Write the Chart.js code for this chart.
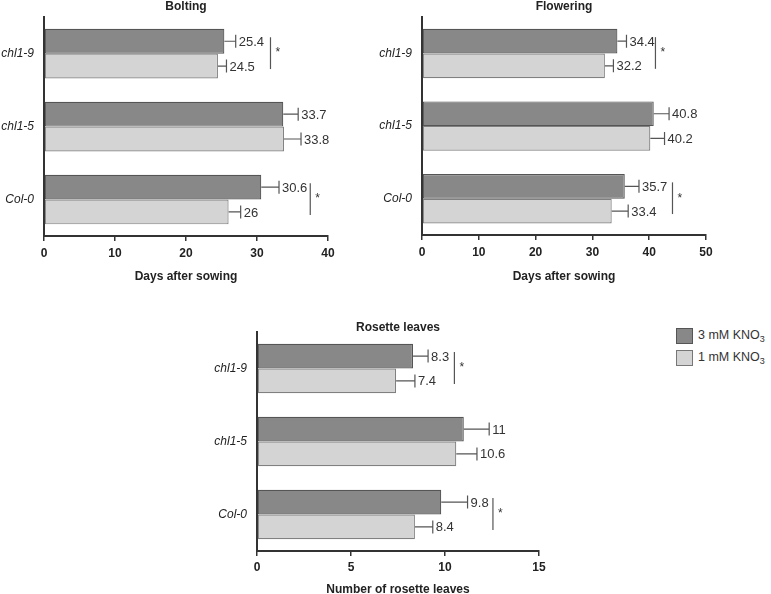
<!DOCTYPE html>
<html>
<head>
<meta charset="utf-8">
<script src="https://cdn.jsdelivr.net/npm/chart.js@4.4.1/dist/chart.umd.min.js"></script>
<style>
  html, body { margin: 0; padding: 0; background: #fff; }
  body { width: 771px; height: 594px; position: relative; overflow: hidden; font-family: "Liberation Sans", Arial, sans-serif; }
  canvas { position: absolute; }
  .leg { position: absolute; left: 676px; font-size: 12.5px; color: #333; }
  .leg .box { position: absolute; left: 0; width: 15px; height: 14px; border: 1px solid #555; }
  .leg .txt { position: absolute; left: 22px; top: 0px; white-space: nowrap; }
  .leg sub { font-size: 9px; vertical-align: -3px; line-height: 0; }
</style>
</head>
<body>
<canvas id="c1"></canvas>
<canvas id="c2"></canvas>
<canvas id="c3"></canvas>
<div class="leg" style="top:328px;"><div class="box" style="background:#888888;"></div><div class="txt">3 mM KNO<sub>3</sub></div></div>
<div class="leg" style="top:350px;"><div class="box" style="background:#d4d4d4;border-color:#777;"></div><div class="txt">1 mM KNO<sub>3</sub></div></div>
<script>
// ---- data ----
const genotypes = ["chl1-9", "chl1-5", "Col-0"];
const seriesNames = ["3 mM KNO3", "1 mM KNO3"];

const boltingHigh = [25.4, 33.7, 30.6];
const boltingLow = [24.5, 33.8, 26];
const boltingHighErr = [1.6, 2.1, 2.5];
const boltingLowErr = [1.2, 2.4, 1.7];
const boltingSig = [31.9, null, 37.5];
const boltingTicks = [0, 10, 20, 30, 40];

const floweringHigh = [34.4, 40.8, 35.7];
const floweringLow = [32.2, 40.2, 33.4];
const floweringHighErr = [1.6, 2.7, 2.5];
const floweringLowErr = [1.5, 2.5, 2.9];
const floweringSig = [41.1, null, 44.1];
const floweringTicks = [0, 10, 20, 30, 40, 50];

const rosetteHigh = [8.3, 11, 9.8];
const rosetteLow = [7.4, 10.6, 8.4];
const rosetteHighErr = [0.8, 1.35, 1.4];
const rosetteLowErr = [1.0, 1.1, 0.95];
const rosetteSig = [10.5, null, 12.55];
const rosetteTicks = [0, 5, 10, 15];

const FONT = '"Liberation Sans", Arial, sans-serif';

const overlay = {
  id: 'overlay',
  afterDatasetsDraw(chart, args, opts) {
    const ctx = chart.ctx;
    const xs = chart.scales.x;
    ctx.save();
    // error bars + value labels
    chart.data.datasets.forEach((ds, di) => {
      const meta = chart.getDatasetMeta(di);
      meta.data.forEach((bar, i) => {
        const v = ds.data[i];
        const e = opts.errors[di][i];
        const x0 = xs.getPixelForValue(v);
        const x1 = xs.getPixelForValue(v + e);
        const y = bar.y;
        ctx.strokeStyle = '#555';
        ctx.lineWidth = 1.2;
        ctx.beginPath();
        ctx.moveTo(x0, y); ctx.lineTo(x1, y);
        ctx.moveTo(x1, y - 6.5); ctx.lineTo(x1, y + 6.5);
        ctx.stroke();
        ctx.fillStyle = '#333';
        ctx.font = '13px ' + FONT;
        ctx.textAlign = 'left';
        ctx.textBaseline = 'middle';
        ctx.fillText(String(v), x1 + 3, y + 1);
      });
    });
    // significance markers
    const m0 = chart.getDatasetMeta(0), m1 = chart.getDatasetMeta(1);
    opts.sig.forEach((s, i) => {
      if (s == null) return;
      const x = xs.getPixelForValue(s);
      const yTop = m0.data[i].y - 4;
      const yBot = m1.data[i].y + 3;
      ctx.strokeStyle = '#555';
      ctx.lineWidth = 1.2;
      ctx.beginPath();
      ctx.moveTo(x, yTop); ctx.lineTo(x, yBot);
      ctx.stroke();
      ctx.fillStyle = '#333';
      ctx.font = '12px ' + FONT;
      ctx.textAlign = 'left';
      ctx.textBaseline = 'middle';
      ctx.fillText('*', x + 5, (yTop + yBot) / 2);
    });
    // title and axis title
    const ca = chart.chartArea;
    ctx.fillStyle = '#222';
    ctx.font = 'bold 12px ' + FONT;
    ctx.textAlign = 'center';
    ctx.textBaseline = 'middle';
    const cx = (ca.left + ca.right) / 2;
    ctx.fillText(opts.title, cx, opts.titleY);
    ctx.fillText(opts.axisTitle, cx, opts.axisTitleY);
    ctx.restore();
  }
};

function makeChart(id, pos, area, high, low, highErr, lowErr, sig, ticks, title, titleY, axisTitle, axisTitleY) {
  const cv = document.getElementById(id);
  cv.style.left = pos.left + 'px';
  cv.style.top = pos.top + 'px';
  cv.width = pos.width; cv.height = pos.height;
  cv.style.width = pos.width + 'px'; cv.style.height = pos.height + 'px';
  return new Chart(cv, {
    type: 'bar',
    data: {
      labels: genotypes,
      datasets: [
        { label: seriesNames[0], data: high, backgroundColor: '#888888', borderColor: '#555555', borderWidth: 1.2, borderSkipped: false },
        { label: seriesNames[1], data: low, backgroundColor: '#d4d4d4', borderColor: '#808080', borderWidth: 1.2, borderSkipped: false }
      ]
    },
    options: {
      indexAxis: 'y',
      responsive: false,
      animation: false,
      devicePixelRatio: 1,
      layout: { padding: { top: area.top, left: 0, right: pos.width - area.right, bottom: 0 } },
      datasets: { bar: { categoryPercentage: 0.68, barPercentage: 1.0 } },
      scales: {
        x: {
          type: 'linear',
          min: ticks[0], max: ticks[ticks.length - 1],
          afterBuildTicks: (s) => { s.ticks = ticks.map(v => ({ value: v })); },
          afterFit: (s) => { s.height = pos.height - area.bottom; },
          border: { display: true, color: '#333', width: 2 },
          grid: { display: true, drawOnChartArea: false, drawTicks: true, tickLength: 5, color: '#333', lineWidth: 1.5 },
          ticks: { color: '#222', font: { family: FONT, size: 12, weight: 'bold' }, padding: area.tickPad }
        },
        y: {
          afterFit: (s) => { s.width = area.left; },
          border: { display: true, color: '#333', width: 2 },
          grid: { display: false, drawTicks: false },
          ticks: { color: '#222', font: { family: FONT, size: 12, style: 'italic' }, padding: 10 }
        }
      },
      plugins: {
        legend: { display: false },
        tooltip: { enabled: false },
        overlay: { errors: [highErr, lowErr], sig: sig, title: title, titleY: titleY, axisTitle: axisTitle, axisTitleY: axisTitleY }
      }
    },
    plugins: [overlay]
  });
}

makeChart('c1', { left: 0, top: 0, width: 380, height: 290 }, { left: 44, right: 328, top: 12, bottom: 236, tickPad: 5 },
  boltingHigh, boltingLow, boltingHighErr, boltingLowErr, boltingSig, boltingTicks, 'Bolting', 7, 'Days after sowing', 277);

makeChart('c2', { left: 340, top: 0, width: 431, height: 290 }, { left: 82, right: 366, top: 12, bottom: 235, tickPad: 5 },
  floweringHigh, floweringLow, floweringHighErr, floweringLowErr, floweringSig, floweringTicks, 'Flowering', 7, 'Days after sowing', 277);

makeChart('c3', { left: 200, top: 290, width: 400, height: 304 }, { left: 57, right: 339, top: 42, bottom: 261, tickPad: 4 },
  rosetteHigh, rosetteLow, rosetteHighErr, rosetteLowErr, rosetteSig, rosetteTicks, 'Rosette leaves', 38, 'Number of rosette leaves', 300);
</script>
</body>
</html>
